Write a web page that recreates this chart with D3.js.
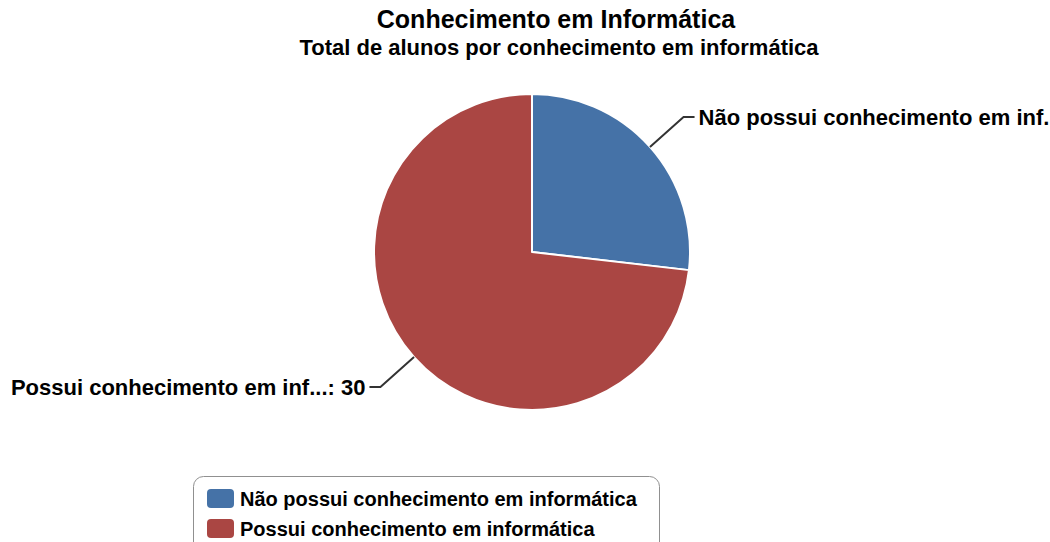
<!DOCTYPE html>
<html>
<head>
<meta charset="utf-8">
<script src="https://cdn.jsdelivr.net/npm/d3@7"></script>
<style>
  body { margin: 0; background: #fff; }
  svg { display: block; font-family: "Liberation Sans", Arial, sans-serif; font-weight: bold; }
</style>
</head>
<body>
<svg id="chart" width="1050" height="542"></svg>
<script>
// data
var categories = ["Não possui conhecimento em informática", "Possui conhecimento em informática"];
var shortLabels = ["Não possui conhecimento em inf...", "Possui conhecimento em inf..."];
var values = [11, 30];
var colors = ["#4572A7", "#AA4643"];

var svg = d3.select("#chart");
var cx = 532, cy = 252, radius = 158;

// titles
svg.append("text")
    .attr("x", 556).attr("y", 28)
    .attr("text-anchor", "middle")
    .attr("font-size", 25)
    .text("Conhecimento em Informática");

svg.append("text")
    .attr("x", 559).attr("y", 55)
    .attr("text-anchor", "middle")
    .attr("font-size", 22)
    .text("Total de alunos por conhecimento em informática");

// pie
var pie = d3.pie().sort(null).value(d => d)(values);
var arc = d3.arc().innerRadius(0).outerRadius(radius);

var g = svg.append("g").attr("transform", `translate(${cx},${cy})`);

g.selectAll("path.slice")
    .data(pie)
    .join("path")
    .attr("class", "slice")
    .attr("d", arc)
    .attr("fill", (d, i) => colors[i])
    .attr("stroke", "#fff")
    .attr("stroke-width", 2)
    .attr("stroke-linejoin", "round");

// data labels with connectors
pie.forEach(function(d, i) {
    var a = (d.startAngle + d.endAngle) / 2;
    var p0 = [Math.sin(a) * radius, -Math.cos(a) * radius];
    var p1 = [Math.sin(a) * (radius + 45), -Math.cos(a) * (radius + 45)];
    var right = Math.sin(a) > 0;
    var p2 = [p1[0] + (right ? 11 : -11), p1[1]];
    g.append("path")
        .attr("d", d3.line()([p0, p1, p2]))
        .attr("fill", "none")
        .attr("stroke", "#333")
        .attr("stroke-width", 2);
    g.append("text")
        .attr("x", p2[0] + (right ? 4 : -4))
        .attr("y", p2[1] + 8)
        .attr("text-anchor", right ? "start" : "end")
        .attr("font-size", 22)
        .attr("fill", "#000")
        .text(shortLabels[i] + ": " + values[i]);
});

// legend
var legend = svg.append("g").attr("transform", "translate(193.5,476.5)");
legend.append("rect")
    .attr("width", 466)
    .attr("height", 90)
    .attr("rx", 10)
    .attr("fill", "#fff")
    .attr("stroke", "#909090")
    .attr("stroke-width", 1);

categories.forEach(function(c, i) {
    legend.append("rect")
        .attr("x", 13.5).attr("y", 12.5 + i * 30)
        .attr("width", 27).attr("height", 19)
        .attr("rx", 4)
        .attr("fill", colors[i]);
    legend.append("text")
        .attr("x", 46.5).attr("y", 29 + i * 30)
        .attr("font-size", 20)
        .text(c);
});
</script>
</body>
</html>
